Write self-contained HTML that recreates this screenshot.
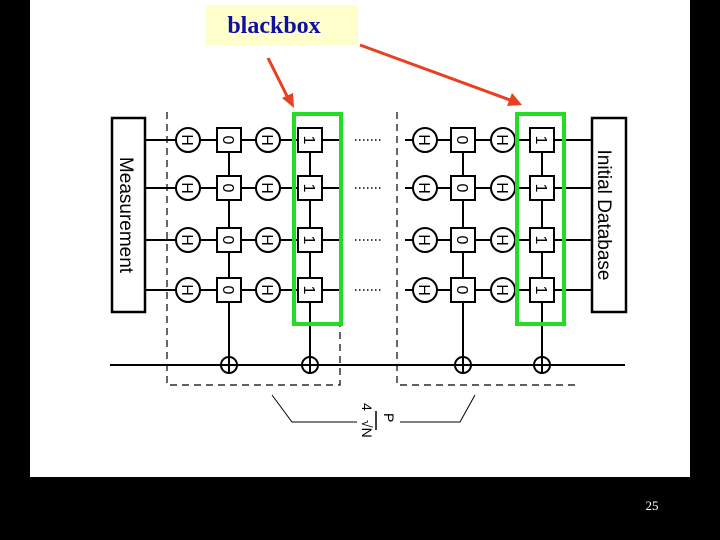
<!DOCTYPE html>
<html><head><style>body{margin:0;background:#000;}svg{display:block}</style></head><body>
<svg width="720" height="540" xmlns="http://www.w3.org/2000/svg" font-family="Liberation Sans, sans-serif">
<defs>
<g id="hc"><circle cx="0" cy="0" r="12" fill="#fff" stroke="#000" stroke-width="2"/></g>
<g id="bx"><rect x="-12" y="-12" width="24" height="24" fill="#fff" stroke="#000" stroke-width="2"/></g>
</defs>
<rect x="0" y="0" width="720" height="540" fill="#000"/>
<rect x="30" y="0" width="660" height="477" fill="#fff"/>
<rect x="205" y="5" width="153" height="40" fill="#ffffcc"/>
<text x="274" y="33" text-anchor="middle" font-family="Liberation Serif, serif" font-weight="bold" font-size="24" fill="#1010a0">blackbox</text>
<text x="652" y="510" text-anchor="middle" font-family="Liberation Serif, serif" font-size="13" fill="#fff">25</text>
<g stroke="#000" fill="none">
<path d="M167 112 V385 H340 V300" stroke-dasharray="7,5" stroke-width="1.2"/>
<path d="M397 112 V385 H575" stroke-dasharray="7,5" stroke-width="1.2"/>
<line x1="110" y1="365" x2="625" y2="365" stroke-width="2"/>
<line x1="229" y1="140" x2="229" y2="365" stroke-width="2"/>
<line x1="310" y1="140" x2="310" y2="365" stroke-width="2"/>
<line x1="463" y1="140" x2="463" y2="365" stroke-width="2"/>
<line x1="542" y1="140" x2="542" y2="365" stroke-width="2"/>
<g stroke-width="2">
<line x1="145" y1="140" x2="340" y2="140"/><line x1="145" y1="188" x2="340" y2="188"/><line x1="145" y1="240" x2="340" y2="240"/><line x1="145" y1="290" x2="340" y2="290"/>
<line x1="405" y1="140" x2="592" y2="140"/><line x1="405" y1="188" x2="592" y2="188"/><line x1="405" y1="240" x2="592" y2="240"/><line x1="405" y1="290" x2="592" y2="290"/>
</g>
<g stroke-dasharray="1.5,2.5" stroke-width="1.5">
<line x1="355" y1="140" x2="382" y2="140"/><line x1="355" y1="188" x2="382" y2="188"/><line x1="355" y1="240" x2="382" y2="240"/><line x1="355" y1="290" x2="382" y2="290"/>
</g>
<rect x="112" y="118" width="33" height="194" stroke-width="2.5" fill="#fff"/>
<rect x="592" y="118" width="34" height="194" stroke-width="2.5" fill="#fff"/>
<g stroke-width="2" fill="#fff">
<circle cx="229" cy="365" r="8"/><circle cx="310" cy="365" r="8"/><circle cx="463" cy="365" r="8"/><circle cx="542" cy="365" r="8"/>
</g>
<path d="M221 365h16M229 357v16M302 365h16M310 357v16M455 365h16M463 357v16M534 365h16M542 357v16" stroke-width="2"/>
<path d="M272 395 L292 422 H357 M475 395 L460 422 H400" stroke-width="1"/>
</g>
<g font-size="16" text-anchor="middle">
<use href="#hc" x="188" y="140"/><use href="#hc" x="188" y="188"/><use href="#hc" x="188" y="240"/><use href="#hc" x="188" y="290"/>
<use href="#bx" x="229" y="140"/><use href="#bx" x="229" y="188"/><use href="#bx" x="229" y="240"/><use href="#bx" x="229" y="290"/>
<use href="#hc" x="268" y="140"/><use href="#hc" x="268" y="188"/><use href="#hc" x="268" y="240"/><use href="#hc" x="268" y="290"/>
<use href="#bx" x="310" y="140"/><use href="#bx" x="310" y="188"/><use href="#bx" x="310" y="240"/><use href="#bx" x="310" y="290"/>
<use href="#hc" x="425" y="140"/><use href="#hc" x="425" y="188"/><use href="#hc" x="425" y="240"/><use href="#hc" x="425" y="290"/>
<use href="#bx" x="463" y="140"/><use href="#bx" x="463" y="188"/><use href="#bx" x="463" y="240"/><use href="#bx" x="463" y="290"/>
<use href="#hc" x="503" y="140"/><use href="#hc" x="503" y="188"/><use href="#hc" x="503" y="240"/><use href="#hc" x="503" y="290"/>
<use href="#bx" x="542" y="140"/><use href="#bx" x="542" y="188"/><use href="#bx" x="542" y="240"/><use href="#bx" x="542" y="290"/>
<text transform="translate(182,140) rotate(90)">H</text><text transform="translate(182,188) rotate(90)">H</text><text transform="translate(182,240) rotate(90)">H</text><text transform="translate(182,290) rotate(90)">H</text>
<text transform="translate(223,140) rotate(90)">0</text><text transform="translate(223,188) rotate(90)">0</text><text transform="translate(223,240) rotate(90)">0</text><text transform="translate(223,290) rotate(90)">0</text>
<text transform="translate(262,140) rotate(90)">H</text><text transform="translate(262,188) rotate(90)">H</text><text transform="translate(262,240) rotate(90)">H</text><text transform="translate(262,290) rotate(90)">H</text>
<text transform="translate(304,140) rotate(90)">1</text><text transform="translate(304,188) rotate(90)">1</text><text transform="translate(304,240) rotate(90)">1</text><text transform="translate(304,290) rotate(90)">1</text>
<text transform="translate(419,140) rotate(90)">H</text><text transform="translate(419,188) rotate(90)">H</text><text transform="translate(419,240) rotate(90)">H</text><text transform="translate(419,290) rotate(90)">H</text>
<text transform="translate(457,140) rotate(90)">0</text><text transform="translate(457,188) rotate(90)">0</text><text transform="translate(457,240) rotate(90)">0</text><text transform="translate(457,290) rotate(90)">0</text>
<text transform="translate(497,140) rotate(90)">H</text><text transform="translate(497,188) rotate(90)">H</text><text transform="translate(497,240) rotate(90)">H</text><text transform="translate(497,290) rotate(90)">H</text>
<text transform="translate(536,140) rotate(90)">1</text><text transform="translate(536,188) rotate(90)">1</text><text transform="translate(536,240) rotate(90)">1</text><text transform="translate(536,290) rotate(90)">1</text>
</g>
<g stroke="#22dd22" stroke-width="4" fill="none">
<rect x="294" y="114" width="47" height="210"/>
<rect x="517" y="114" width="47" height="210"/>
</g>
<g stroke="#e84020" stroke-width="3" fill="#e84020">
<line x1="268" y1="58" x2="288" y2="98"/><polygon points="294,108 282,98 293,93" stroke="none"/>
<line x1="360" y1="45" x2="510" y2="100"/><polygon points="522,105 507,106 512,93" stroke="none"/>
</g>
<text transform="translate(120,215) rotate(90)" text-anchor="middle" font-size="19">Measurement</text>
<text transform="translate(598,215) rotate(90)" text-anchor="middle" font-size="19">Initial Database</text>
<text transform="translate(384,413) rotate(90)" font-size="14">P</text>
<line x1="376" y1="411" x2="376" y2="430" stroke="#000" stroke-width="1.5"/>
<text transform="translate(362,403) rotate(90)" font-size="14">4</text>
<text transform="translate(362,420) rotate(90)" font-size="14">√N</text>
</svg>
</body></html>
